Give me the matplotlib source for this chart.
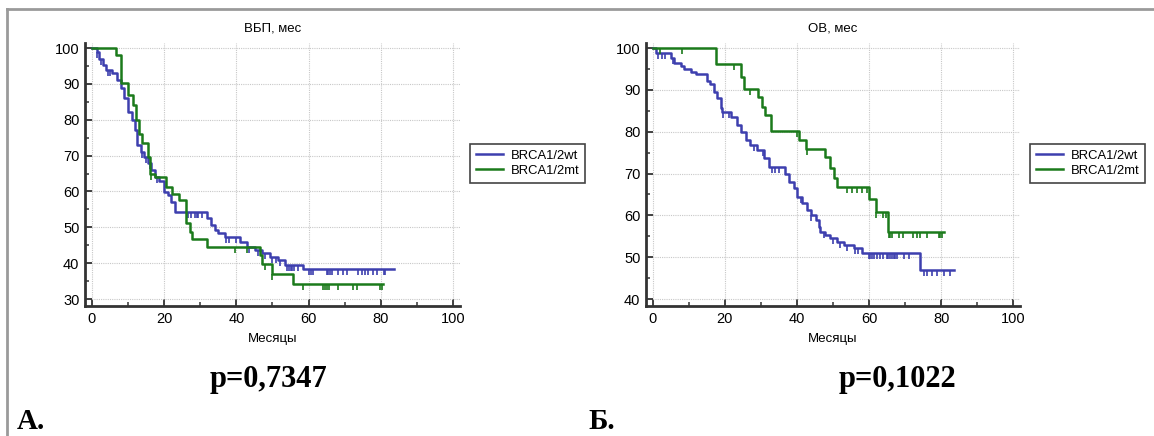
import numpy as np
import matplotlib
matplotlib.use("Agg")
from matplotlib import pyplot as plt
from matplotlib.ticker import MultipleLocator
from matplotlib.lines import Line2D

plt.rcParams['font.family'] = ['Liberation Sans', 'DejaVu Sans']

# ---- Panel A: ВБП (progression-free survival) ----
a_wt_t = [0, 1.3, 2, 3, 4, 5.5, 7, 8, 9, 10, 11, 12, 12.5, 13.5, 14.5, 15.5, 16.5, 17.5, 18.5,
          20, 21, 22, 23, 32, 33.1, 34, 35, 36.8, 41, 42.9, 45.2, 47, 49.3, 51.6, 53.5, 58.5]
a_wt_s = [100, 99, 97, 95.3, 94, 92.9, 91, 88.8, 86, 82.2, 80, 77, 73, 71, 69.6, 68, 66, 64, 63,
          59.9, 59, 57, 54.4, 52.6, 50.6, 49.2, 48.3, 47.2, 46, 44.6, 43.7, 42.7, 41.8, 40.9, 39.5, 38.4]
a_wt_end = 83.6
a_wt_cens = [1.5, 2.5, 4.5, 5, 14, 15, 16, 18, 26.5, 27.5, 28.5, 29, 29.5, 30.5, 37, 38, 40, 43.5,
             46, 48, 50, 51, 52, 54, 54.5, 55, 55.5, 56, 57, 60.2, 60.6, 61.3, 65, 65.5, 65.9, 66.4,
             68.2, 69.6, 70.5, 73.8, 74.7, 75.6, 76.5, 77.7, 79, 80.9, 81.2]

a_mt_t = [0, 6.6, 8.2, 10.1, 11.4, 12.3, 13, 13.8, 15.6, 16.2, 17.5, 20.4, 22.2, 24.2, 26, 27.1,
          27.6, 31.8, 46.5, 47.2, 49.8, 55.7]
a_mt_s = [100, 98, 90.2, 86.9, 84.1, 80, 76, 73.4, 69.7, 65, 64, 61.2, 59.3, 57.6, 51.2, 48.8,
          46.7, 44.5, 42.3, 39.8, 37, 34.1]
a_mt_end = 80.7
a_mt_cens = [16.5, 39.6, 43, 47.8, 50, 58.4, 63.9, 64.5, 65, 65.7, 68.2, 72.2, 73.5, 79.8, 80.2]

# ---- Panel B: ОВ (overall survival) ----
b_wt_t = [0, 0.8, 5, 6, 7.8, 8.7, 10.5, 11.9, 15.1, 16, 17, 17.8, 18.8, 19.3, 21.6, 23.4, 24.4,
          25.8, 27.1, 29, 30.9, 32.3, 36.6, 37.8, 39.1, 40, 41.5, 42.9, 43.8, 45.2, 46.1, 46.5,
          47.9, 49.3, 51.2, 53, 55.8, 58.1, 74.2]
b_wt_s = [100, 98.9, 97.5, 96.3, 95.7, 94.9, 94.3, 93.7, 92.2, 91.5, 89.5, 88, 85.6, 84.8, 83.6,
          81.6, 80, 78, 76.8, 75.6, 73.6, 71.6, 69.9, 68, 66.5, 64.5, 62.9, 61.3, 60.1, 58.9, 57.3,
          56.1, 55.3, 54.5, 53.7, 52.9, 52.1, 51.1, 46.9]
b_wt_end = 83.5
b_wt_cens = [1.5, 2.5, 3.5, 5.5, 19.5, 21, 28, 30.5, 33, 34, 35, 41, 44, 47.5, 50, 52, 54, 56, 57,
             59.9, 60.4, 60.8, 61.3, 62.2, 63.1, 64, 65, 65.4, 65.9, 66.4, 66.8, 67.3, 67.7, 69.6,
             71, 75.2, 76.1, 77.5, 78.9, 80.7, 82.5]

b_mt_t = [0, 17.5, 24.6, 25.2, 29.2, 30.2, 31, 32.7, 40.5, 42.4, 47.9, 49.3, 50.2, 51, 59.9, 61.8, 65.3]
b_mt_s = [100, 96.1, 93, 90.1, 88.4, 86, 84, 80.2, 78, 75.9, 73.9, 71.4, 68.9, 66.8, 63.8, 60.9, 56.1]
b_mt_end = 80.7
b_mt_cens = [2, 8, 22.5, 26.9, 40, 42.9, 53.9, 55.3, 56.7, 58.1, 59.3, 62, 64, 64.8, 65.5, 65.9,
             66.4, 68.2, 69.4, 72.2, 73.3, 74.2, 76.1, 79.3, 79.8, 80.2]

labels = ["BRCA1/2wt", "BRCA1/2mt"]
BLUE = "#3d3fae"
GREEN = "#1b7a1b"


def km(ax, t, s, end, cens, color):
    t = list(t) + [end]
    s = list(s) + [s[-1]]
    ax.step(t, s, where="post", color=color, lw=1.8, zorder=3)
    idx = np.searchsorted(t, cens, side="right") - 1
    ax.plot(cens, np.array(s)[idx], ls="none", marker=3, ms=4, mew=1.2, color=color, zorder=3)


def style(ax, ylim, yticks, title):
    ax.set_xlim(-1.9, 101.9)
    ax.set_ylim(*ylim)
    ax.set_xticks(np.arange(0, 101, 20))
    ax.set_yticks(yticks)
    ax.xaxis.set_minor_locator(MultipleLocator(10))
    ax.yaxis.set_minor_locator(MultipleLocator(5))
    ax.grid(True, which="major", color="#c8c8c8", lw=0.8, ls=(0, (1, 1)))
    for sp in ["top", "right"]:
        ax.spines[sp].set_visible(False)
    for sp in ["left", "bottom"]:
        ax.spines[sp].set_color("#333333")
        ax.spines[sp].set_linewidth(2)
    ax.tick_params(which="major", direction="in", length=5, width=1.3, color="#333333",
                   labelsize=10.5, pad=4)
    ax.tick_params(which="minor", direction="in", length=3, width=1.1, color="#333333")
    ax.set_title(title, fontsize=9.5, pad=8)
    ax.set_xlabel("Месяцы", fontsize=9.5, labelpad=5)


fig = plt.figure(figsize=(11.54, 4.36), dpi=100)

# outer frame lines (top and left)
fig.add_artist(Line2D([7 / 1154, 1], [1 - 9 / 436, 1 - 9 / 436], color="#9a9a9a", lw=2))
fig.add_artist(Line2D([7 / 1154, 7 / 1154], [0, 1 - 9 / 436], color="#9a9a9a", lw=2))

axA = fig.add_axes([85 / 1154, 1 - 306 / 436, 375 / 1154, 263 / 436])
km(axA, a_wt_t, a_wt_s, a_wt_end, a_wt_cens, BLUE)
km(axA, a_mt_t, a_mt_s, a_mt_end, a_mt_cens, GREEN)
style(axA, (28.05, 101.4), np.arange(30, 101, 10), "ВБП, мес")

axB = fig.add_axes([646 / 1154, 1 - 306 / 436, 374 / 1154, 263 / 436])
km(axB, b_wt_t, b_wt_s, b_wt_end, b_wt_cens, BLUE)
km(axB, b_mt_t, b_mt_s, b_mt_end, b_mt_cens, GREEN)
style(axB, (38.33, 101.2), np.arange(40, 101, 10), "ОВ, мес")

handles = [Line2D([], [], color=BLUE, lw=1.8), Line2D([], [], color=GREEN, lw=1.8)]
for x0 in [470, 1030]:
    leg = fig.legend(handles, labels, loc="upper left",
                     bbox_to_anchor=(x0 / 1154, 1 - 144 / 436), fontsize=9.4,
                     fancybox=False, edgecolor="#444444", framealpha=1,
                     handlelength=2.1, handletextpad=0.55, borderpad=0.45, labelspacing=0.2,
                     borderaxespad=0)
    leg.get_frame().set_linewidth(1.2)

serif = ["Liberation Serif", "DejaVu Serif"]
fig.text(269 / 1154, 1 - 387 / 436, "p=0,7347", family=serif, fontweight="bold",
         fontsize=22, ha="center", va="baseline")
fig.text(897 / 1154, 1 - 387 / 436, "p=0,1022", family=serif, fontweight="bold",
         fontsize=22, ha="center", va="baseline")
fig.text(17 / 1154, 1 - 429 / 436, "А.", family=serif, fontweight="bold",
         fontsize=21, ha="left", va="baseline")
fig.text(588 / 1154, 1 - 429 / 436, "Б.", family=serif, fontweight="bold",
         fontsize=21, ha="left", va="baseline")

fig.savefig("out.png", dpi=100)
